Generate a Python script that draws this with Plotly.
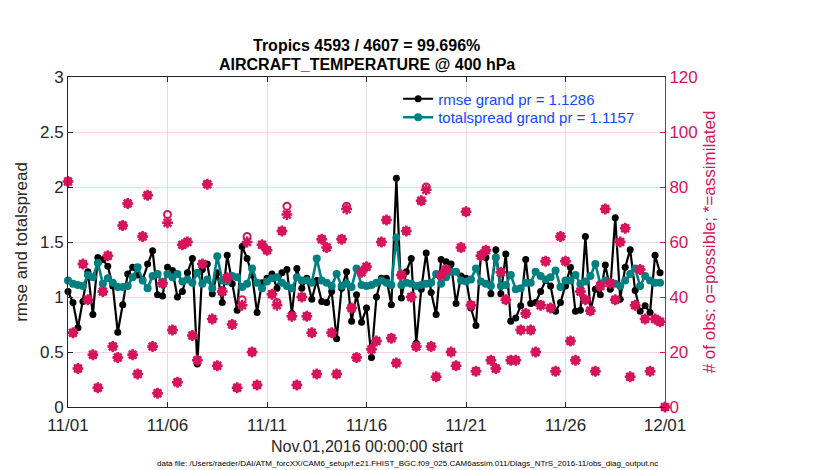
import pandas as pd
import plotly.graph_objects as go

# 6-hourly bins, Nov 01 2016 00Z onward
times = pd.date_range("2016-11-01 00:00", periods=121, freq="6h")

rmse = [1.05, 0.95, 0.72, 0.96, 1.23, 0.84, 1.36, 1.34, 1.28, 1.10,
        0.68, 0.93, 1.21, 1.27, 1.20, 1.16, 1.30, 1.42, 1.02, 1.01,
        1.27, 1.24, 1.00, 1.05, 1.22, 1.35, 0.39, 1.25, 1.30, 1.03,
        1.22, 0.95, 1.38, 1.12, 0.88, 1.46, 1.35, 1.20, 0.86, 1.13,
        1.17, 1.21, 1.08, 1.22, 1.25, 0.85, 1.26, 1.08, 1.17, 0.98,
        1.15, 0.96, 0.95, 1.05, 0.62, 1.08, 1.23, 0.78, 1.02, 0.77,
        0.90, 0.45, 1.00, 1.17, 1.17, 0.93, 2.08, 0.99, 1.23, 1.35,
        0.58, 1.07, 1.40, 1.04, 0.84, 1.34, 1.32, 1.30, 0.94, 1.19,
        1.17, 0.90, 0.74, 1.39, 1.36, 1.03, 1.43, 1.03, 1.39, 0.78,
        0.81, 0.92, 1.34, 0.94, 0.95, 1.05, 1.15, 1.10, 0.87, 0.95,
        1.10, 1.27, 0.87, 0.88, 1.55, 0.87, 1.07, 1.02, 1.29, 1.07,
        1.72, 0.98, 1.27, 1.43, 1.06, 0.87, 0.92, 0.86, 1.38, 1.22]

totalspread = [1.15, 1.12, 1.11, 1.10, 1.20, 1.18, 1.31, 1.12, 1.17, 1.13,
               1.09, 1.09, 1.10, 1.18, 1.27, 1.15, 1.08, 1.19, 1.21, 1.12,
               1.21, 1.18, 1.21, 1.14, 1.16, 1.13, 1.22, 1.12, 1.16, 1.08,
               1.37, 1.15, 1.14, 1.19, 1.18, 1.09, 1.12, 1.26, 1.13, 1.08,
               1.14, 1.17, 1.18, 1.13, 1.10, 1.08, 1.18, 1.15, 1.15, 1.13,
               1.35, 1.15, 1.13, 1.10, 1.21, 1.10, 1.12, 1.09, 1.26, 1.11,
               1.10, 1.11, 1.13, 1.15, 1.13, 1.11, 1.54, 1.11, 1.13, 1.12,
               1.10, 1.11, 1.12, 1.13, 1.21, 1.12, 1.18, 1.23, 1.23, 1.15,
               1.14, 1.16, 1.26, 1.14, 1.12, 1.10, 1.36, 1.10, 1.11, 1.20,
               1.07, 1.08, 1.13, 1.13, 1.23, 1.19, 1.16, 1.18, 1.24, 1.09,
               1.15, 1.15, 1.20, 1.12, 1.14, 1.19, 1.30, 1.12, 1.15, 1.13,
               1.12, 1.10, 1.15, 1.21, 1.26, 1.10, 1.19, 1.15, 1.13, 1.13]

nposs = [82, 27, 14, 52, 39, 19, 7, 42, 55, 22,
         18, 66, 74, 19, 12, 62, 77, 22, 5, 45,
         70, 28, 9, 59, 60, 26, 17, 52, 81, 32,
         15, 42, 47, 30, 7, 39, 62, 20, 8, 59,
         57, 41, 38, 64, 73, 33, 8, 40, 33, 27,
         12, 61, 58, 27, 12, 61, 73, 36, 18, 49,
         51, 21, 24, 60, 68, 25, 16, 48, 64, 40,
         22, 75, 80, 22, 11, 48, 50, 20, 15, 58,
         71, 37, 13, 55, 57, 17, 14, 49, 39, 17,
         17, 28, 34, 28, 20, 37, 53, 36, 13, 62,
         53, 24, 17, 42, 39, 35, 13, 44, 72, 45,
         39, 60, 65, 11, 37, 50, 32, 13, 32, 31,
         0]

nused = [82, 27, 14, 52, 39, 19, 7, 42, 55, 22,
         18, 66, 74, 19, 12, 62, 77, 22, 5, 45,
         67, 28, 9, 59, 60, 26, 17, 52, 81, 32,
         15, 42, 47, 30, 7, 37, 60, 20, 8, 59,
         57, 41, 37, 64, 70, 33, 8, 40, 33, 27,
         12, 61, 58, 27, 12, 61, 72, 36, 18, 49,
         51, 21, 24, 60, 68, 25, 16, 48, 64, 40,
         22, 75, 79, 22, 11, 48, 50, 20, 15, 58,
         71, 37, 13, 55, 57, 17, 14, 49, 39, 17,
         17, 28, 34, 28, 20, 37, 53, 36, 13, 62,
         53, 24, 17, 42, 39, 35, 13, 44, 72, 45,
         39, 60, 65, 11, 37, 50, 32, 13, 32, 31,
         0]

rmse_label = "rmse grand pr = 1.1286"
spread_label = "totalspread grand pr = 1.1157"
title_lines = ["Tropics 4593 / 4607 = 99.696%", "AIRCRAFT_TEMPERATURE @ 400 hPa"]
datafile = ("data file: /Users/raeder/DAI/ATM_forcXX/CAM6_setup/f.e21.FHIST_BGC.f09_025."
            "CAM6assim.011/Diags_NTrS_2016-11/obs_diag_output.nc")

crimson = "rgb(214,20,92)"
teal = "rgb(0,128,128)"
axcol = "rgb(38,38,38)"
legcol = "rgb(16,72,255)"
fnt = "Liberation Sans, Helvetica, Arial, sans-serif"

# plot box in pixels: x 58..657, y 69..399
top, bottom = 69, 399
ph = bottom - top


def ypix(y):
    # pixel row -> paper coordinate
    return (bottom - y) / ph


fig = go.Figure()

# obs counts on the right axis
fig.add_trace(go.Scatter(
    x=times, y=nposs, yaxis="y2", mode="markers", showlegend=False,
    marker=dict(symbol="circle-open", size=7, color=crimson, line=dict(width=2, color=crimson)),
    cliponaxis=False, hoverinfo="skip",
))
fig.add_trace(go.Scatter(
    x=times, y=nused, yaxis="y2", mode="markers", showlegend=False,
    marker=dict(symbol="asterisk-open", size=9, color=crimson, line=dict(width=2.5, color=crimson)),
    cliponaxis=False, hoverinfo="skip",
))

fig.add_trace(go.Scatter(
    x=times[:len(rmse)], y=rmse, name=rmse_label, mode="lines+markers",
    line=dict(color="black", width=2.2),
    marker=dict(symbol="circle", size=7, color="black"),
    cliponaxis=False, legend="legend",
))
fig.add_trace(go.Scatter(
    x=times[:len(totalspread)], y=totalspread, name=spread_label, mode="lines+markers",
    line=dict(color=teal, width=2.6),
    marker=dict(symbol="circle", size=8, color=teal),
    cliponaxis=False, legend="legend2",
))

leg_common = dict(
    xanchor="left", yanchor="middle", bgcolor="rgba(0,0,0,0)", borderwidth=0,
    font=dict(size=15, color=legcol, family=fnt), itemwidth=30,
)

fig.update_layout(
    width=830, height=470,
    margin=dict(l=58, r=173, t=top, b=470 - bottom),
    plot_bgcolor="white", paper_bgcolor="white",
    font=dict(family=fnt, size=16, color=axcol),
    xaxis=dict(
        type="date", range=["2016-11-01", "2016-12-01"],
        tick0="2016-11-01", dtick=5 * 86400000, tickformat="%m/%d",
        ticks="inside", ticklen=5, tickcolor=axcol,
        showgrid=True, gridcolor="rgb(222,222,222)", gridwidth=1,
        showline=True, linecolor=axcol, linewidth=1, mirror="ticks",
        tickfont=dict(size=17), zeroline=False, ticklabelstandoff=3,
    ),
    yaxis=dict(
        range=[0, 3], dtick=0.5, ticks="inside", ticklen=5, tickcolor=axcol,
        showgrid=False, zeroline=False,
        showline=True, linecolor=axcol, linewidth=1,
        tickfont=dict(size=17),
        title=dict(text="rmse and totalspread", font=dict(size=17), standoff=8),
    ),
    yaxis2=dict(
        range=[0, 120], dtick=20, overlaying="y", side="right",
        ticks="inside", ticklen=5, tickcolor=crimson,
        showgrid=True, gridcolor="rgb(246,214,226)", gridwidth=1, zeroline=False,
        showline=True, linecolor=crimson, linewidth=1,
        tickfont=dict(size=17, color=crimson),
        title=dict(text="# of obs: o=possible; *=assimilated",
                   font=dict(size=17, color=crimson), standoff=6),
    ),
    legend=dict(x=0.553, y=ypix(91), **leg_common),
    legend2=dict(x=0.553, y=ypix(109.5), **leg_common),
    annotations=[
        dict(text="<b>" + title_lines[0] + "</b>", x=0.5, y=ypix(37), xref="paper", yref="paper",
             yanchor="middle", showarrow=False, font=dict(size=16, color="black")),
        dict(text="<b>" + title_lines[1] + "</b>", x=0.5, y=ypix(56), xref="paper", yref="paper",
             yanchor="middle", showarrow=False, font=dict(size=16, color="black")),
        dict(text="Nov.01,2016 00:00:00 start", x=0.5, y=ypix(438), xref="paper", yref="paper",
             yanchor="middle", showarrow=False, font=dict(size=16, color=axcol)),
        dict(text=datafile, x=0.569, y=ypix(455), xref="paper", yref="paper",
             yanchor="middle", showarrow=False, font=dict(size=8, color="black")),
    ],
)

fig.write_html("out.html")
